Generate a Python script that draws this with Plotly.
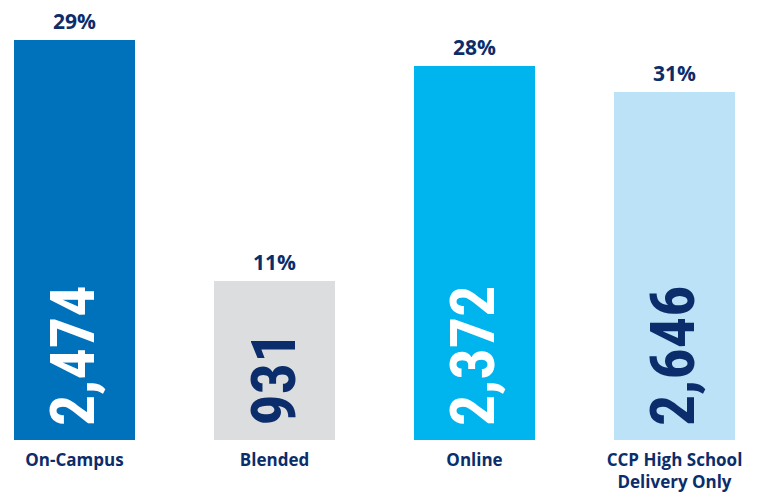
import plotly.graph_objects as go

categories = ["On-Campus", "Blended", "Online", "CCP High School<br>Delivery Only"]
counts = [2474, 931, 2372, 2646]
percents = [29, 11, 28, 31]
# bar heights as drawn in the picture (relative, first bar = 100)
bar_heights = [100, 39.75, 93.5, 87]

bar_colors = ["#0071BB", "#DCDDDF", "#00B4EE", "#BBE2F7"]
count_colors = ["#FFFFFF", "#0B2D6B", "#FFFFFF", "#0B2D6B"]
navy = "#0B2D6B"

x = list(range(len(categories)))

fig = go.Figure()
fig.add_trace(go.Bar(
    x=x, y=bar_heights, width=0.605,
    marker=dict(color=bar_colors, line=dict(width=0)),
    hoverinfo="skip",
))

annotations = []
for i, (c, p, h) in enumerate(zip(counts, percents, bar_heights)):
    annotations.append(dict(
        x=i, y=h, xref="x", yref="y", text=f"{p}%", showarrow=False,
        xanchor="center", yanchor="bottom", yshift=3,
        font=dict(family="Open Sans", size=21, color=navy, weight="bold"),
    ))
    annotations.append(dict(
        x=i, y=0, xref="x", yref="y", text=f"{c:,}", showarrow=False,
        textangle=-90, xanchor="center", yanchor="bottom", yshift=12, xshift=-2,
        font=dict(family="Roboto Condensed", size=62,
                  color=count_colors[i], weight="bold"),
    ))

fig.update_layout(
    width=755, height=488,
    margin=dict(l=0, r=0, t=0, b=56),
    paper_bgcolor="white", plot_bgcolor="white",
    showlegend=False,
    annotations=annotations,
    xaxis=dict(range=[-0.3325, 3.4425], tickmode="array", tickvals=x, ticktext=categories,
               showgrid=False, zeroline=False, showline=False, ticks="",
               ticklabelstandoff=8,
               tickfont=dict(family="Open Sans", size=17, color=navy, weight="bold")),
    yaxis=dict(range=[0, 108], visible=False, showgrid=False, zeroline=False),
)

fig.write_html("out.html")
